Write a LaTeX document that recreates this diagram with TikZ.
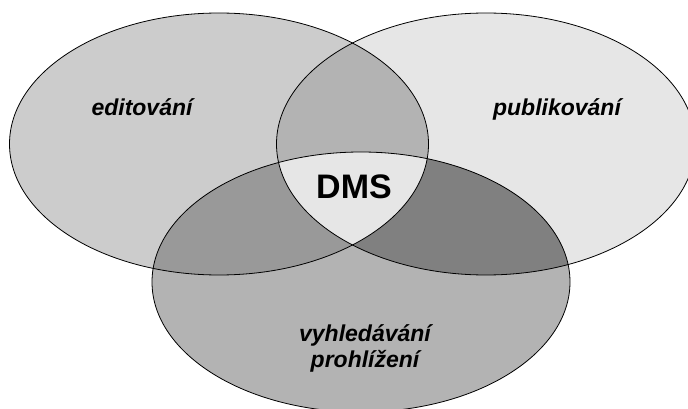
\documentclass[tikz,border=0pt]{standalone}
\usepackage{fontspec}
\setmainfont{Liberation Sans}
\usetikzlibrary{positioning}
\definecolor{editbg}{HTML}{CCCCCC}
\definecolor{publbg}{HTML}{E6E6E6}
\definecolor{vyhlbg}{HTML}{B3B3B3}
\definecolor{edpubbg}{HTML}{B3B3B3}
\definecolor{edvyhbg}{HTML}{999999}
\definecolor{puvyhbg}{HTML}{808080}
\definecolor{dmsbg}{HTML}{E6E6E6}

\begin{document}
\begin{tikzpicture}[x=1pt, y=-1pt,
  setlabel/.style={font=\fontsize{23}{27}\selectfont\bfseries\itshape, anchor=base, inner sep=0pt},
  outline/.style={draw=black, line width=0.8pt}]
  \useasboundingbox (0,0) rectangle (688,409);
  % three sets: editovani (left), publikovani (right), vyhledavani (bottom)
  \def\setEdit{(219,144) ellipse [x radius=209.5pt, y radius=131pt]}
  \def\setPubl{(486,144) ellipse [x radius=209.5pt, y radius=131pt]}
  \def\setVyhl{(361,282) ellipse [x radius=209pt, y radius=130pt]}

  \fill[editbg] \setEdit;
  \fill[publbg] \setPubl;
  \fill[vyhlbg] \setVyhl;

  % pairwise overlaps
  \begin{scope}
    \clip \setEdit;
    \fill[edpubbg] \setPubl;
    \fill[edvyhbg] \setVyhl;
  \end{scope}
  \begin{scope}
    \clip \setPubl;
    \fill[puvyhbg] \setVyhl;
  \end{scope}

  % common part
  \begin{scope}
    \clip \setEdit;
    \clip \setPubl;
    \fill[dmsbg] \setVyhl;
  \end{scope}

  \draw[outline] \setEdit;
  \draw[outline] \setPubl;
  \draw[outline] \setVyhl;

  % labels
  \node[setlabel] (edit) at (142,116) {editování};
  \node[setlabel] (publ) at (557,116) {publikování};
  \node[setlabel] (vyhl) at (365,341) {vyhledávání};
  \node[setlabel] (prohl) at (365,367.5) {prohlížení};
  \node[font=\fontsize{34}{40}\selectfont\bfseries, anchor=base, inner sep=0pt] (dms) at (354,198) {DMS};
\end{tikzpicture}
\end{document}
